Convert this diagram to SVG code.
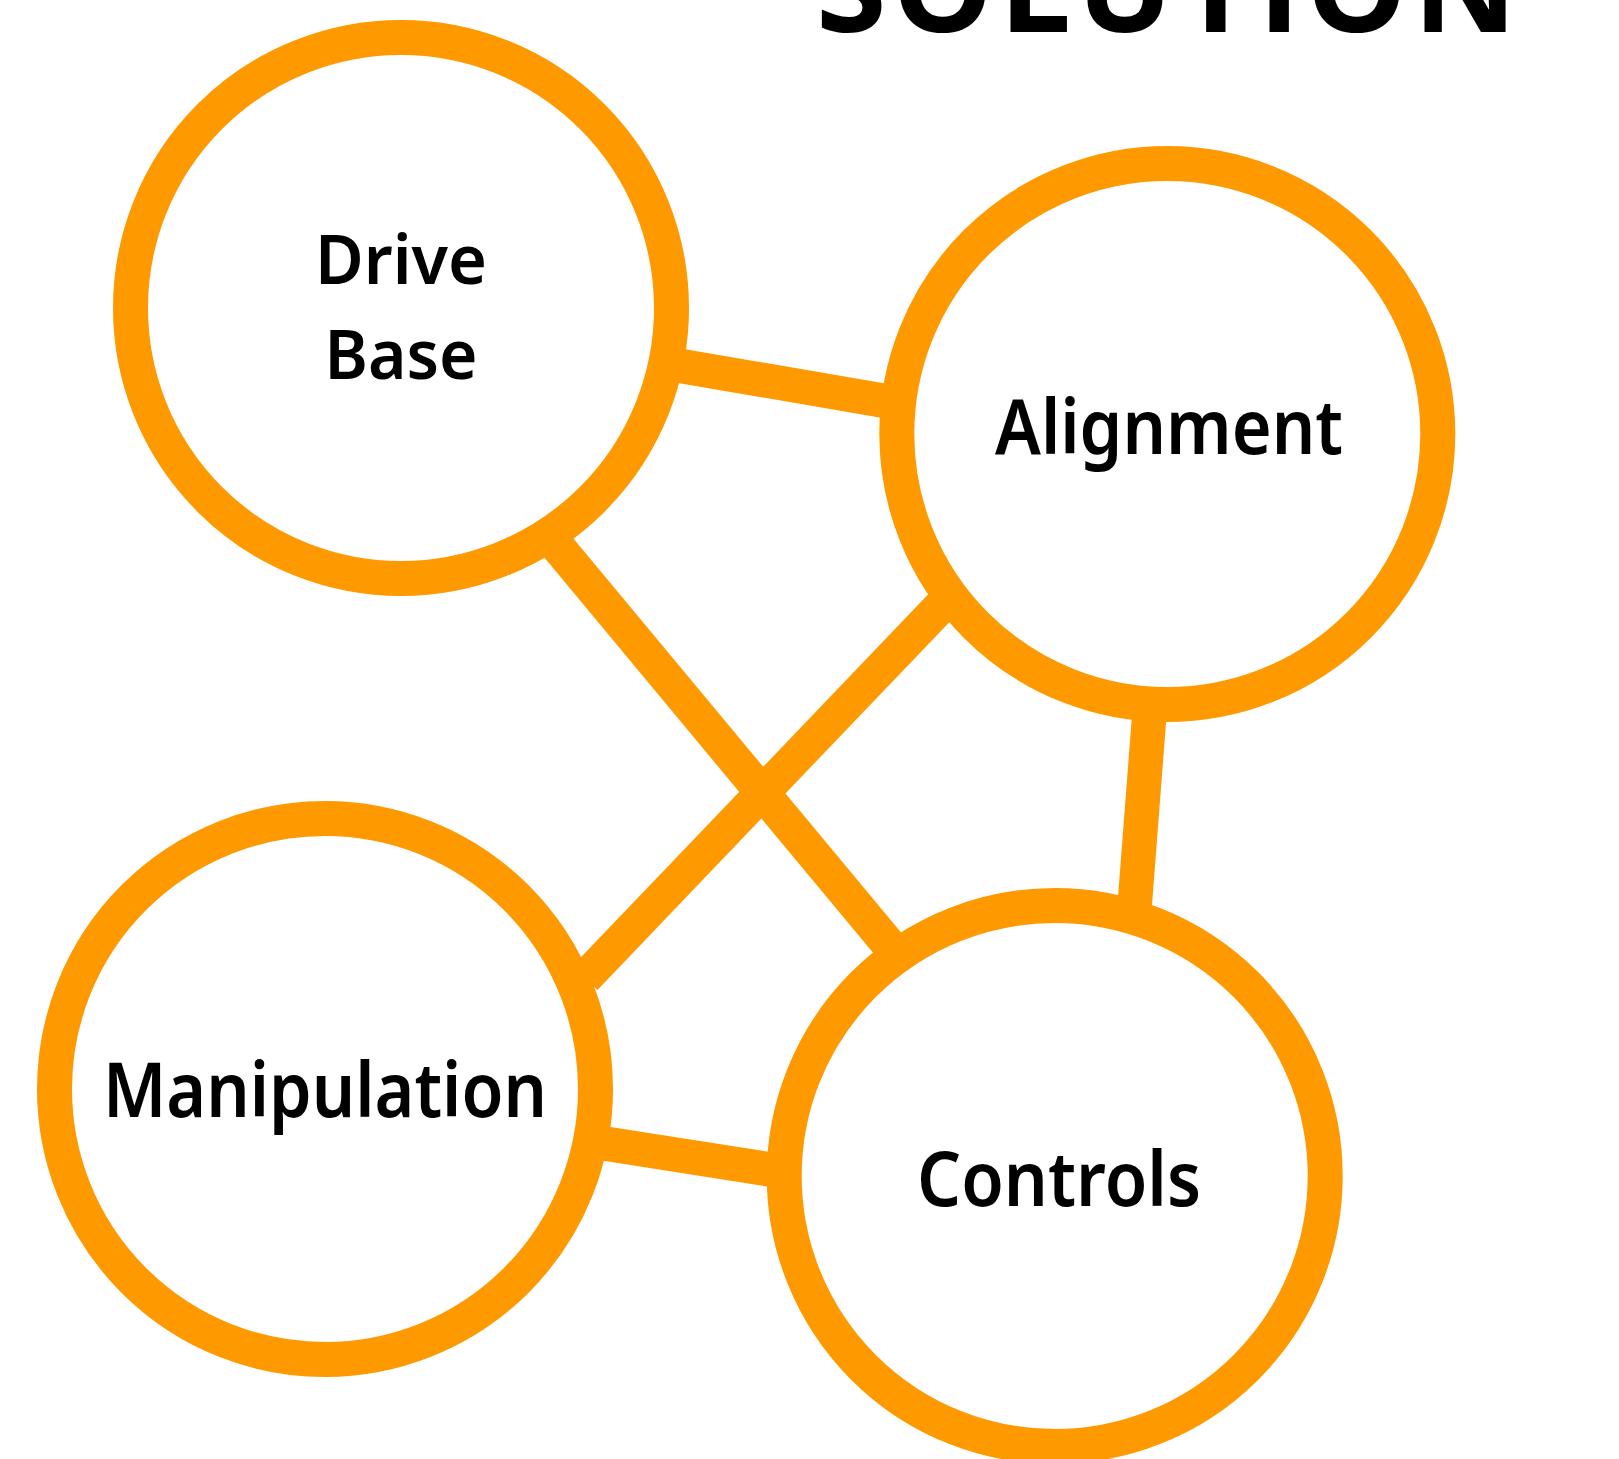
<svg xmlns="http://www.w3.org/2000/svg" width="1619" height="1459" viewBox="0 0 1619 1459">
  <style>
    .ring { fill: #ffffff; stroke: #FF9900; stroke-width: 35; }
    .edge { stroke: #FF9900; stroke-width: 34.5; stroke-linecap: butt; fill: none; }
    .label { font-family: "Noto Sans", "Open Sans", sans-serif; font-weight: 600; fill: #000000; text-anchor: middle; }
    .title { font-family: "Open Sans", "Noto Sans", sans-serif; font-weight: 700; fill: #000000; }
  </style>
  <rect width="1619" height="1459" fill="#ffffff"/>
  <text class="title" x="816" y="32" font-size="128" textLength="701" lengthAdjust="spacing">SOLUTION</text>
  <g id="connectors">
    <line class="edge" x1="640" y1="358.9" x2="920" y2="407"/>
    <line class="edge" x1="520" y1="501.3" x2="930" y2="994.3"/>
    <line class="edge" x1="990" y1="554.7" x2="585" y2="978"/>
    <line class="edge" x1="1152" y1="680" x2="1132" y2="940"/>
    <line class="edge" x1="560" y1="1136.5" x2="810" y2="1175.7"/>
  </g>
  <g id="drive-base">
    <circle class="ring" cx="401" cy="308" r="270.5"/>
    <text class="label" x="401" y="284" font-size="69" textLength="172" lengthAdjust="spacingAndGlyphs">Drive</text>
    <text class="label" x="401" y="378.5" font-size="69" textLength="153" lengthAdjust="spacingAndGlyphs">Base</text>
  </g>
  <g id="alignment">
    <circle class="ring" cx="1167.3" cy="434" r="270.5"/>
    <text class="label" x="1169" y="454.3" font-size="75" textLength="348" lengthAdjust="spacingAndGlyphs">Alignment</text>
  </g>
  <g id="manipulation">
    <circle class="ring" cx="325" cy="1089" r="270.5"/>
    <text class="label" x="325" y="1117" font-size="75" textLength="444" lengthAdjust="spacingAndGlyphs">Manipulation</text>
  </g>
  <g id="controls">
    <circle class="ring" cx="1054.7" cy="1176" r="270.5"/>
    <text class="label" x="1059" y="1206" font-size="75" textLength="284" lengthAdjust="spacingAndGlyphs">Controls</text>
  </g>
</svg>
